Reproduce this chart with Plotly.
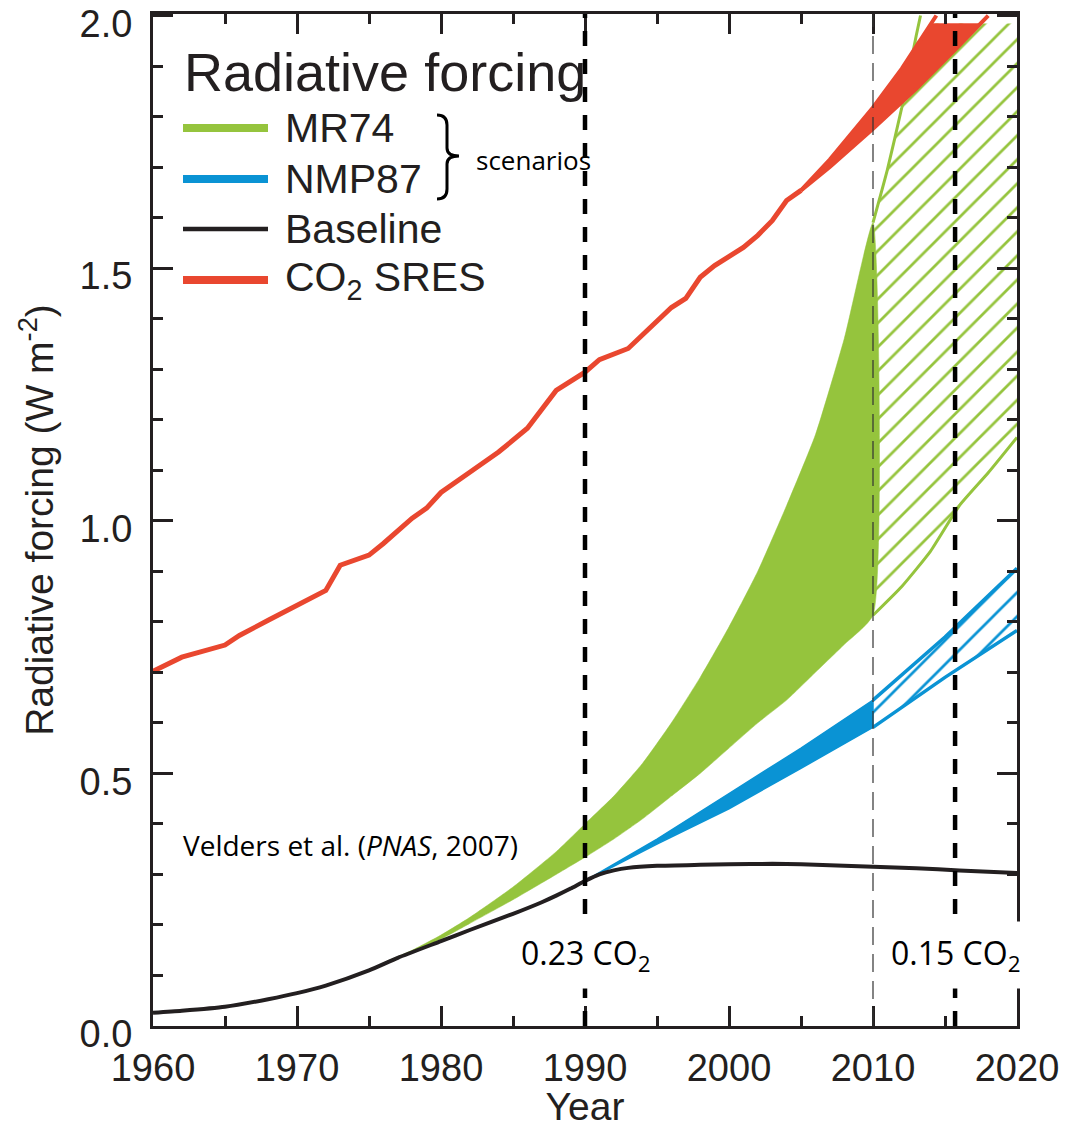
import numpy as np
import plotly.graph_objects as go

# ------------------------------------------------------------------ data
# CO2 SRES (single line up to 2005, then a widening band)
co2_years = [1960, 1962, 1965, 1966, 1968, 1970, 1972, 1973, 1975, 1976, 1978, 1979,
             1980, 1982, 1984, 1986, 1987, 1988, 1990, 1991, 1993, 1994.5, 1996, 1997,
             1998, 1999, 2001, 2002, 2003, 2004, 2005]
co2_vals = [0.702, 0.730, 0.754, 0.773, 0.803, 0.833, 0.862, 0.912, 0.932, 0.955, 1.005, 1.025,
            1.056, 1.096, 1.136, 1.183, 1.219, 1.258, 1.294, 1.319, 1.341, 1.381, 1.422, 1.440,
            1.482, 1.505, 1.541, 1.565, 1.594, 1.634, 1.654]
co2_hi_years = [2005, 2007, 2010, 2012, 2014.4]
co2_hi_vals = [1.654, 1.715, 1.818, 1.895, 2.0]
co2_lo_years = [2005, 2007, 2010, 2013, 2015.8, 2018]
co2_lo_vals = [1.654, 1.700, 1.776, 1.855, 1.935, 2.0]

# Baseline
base_years = [1960, 1962, 1965, 1968, 1970, 1972, 1975, 1977, 1980, 1982, 1985, 1987, 1988,
              1989, 1990, 1991, 1992, 1993, 1995, 1998, 2000, 2003, 2005, 2008, 2010, 2013,
              2016, 2020]
base_vals = [0.026, 0.030, 0.038, 0.053, 0.065, 0.080, 0.110, 0.135, 0.168, 0.190, 0.222,
             0.245, 0.258, 0.272, 0.287, 0.300, 0.308, 0.313, 0.317, 0.319, 0.320, 0.321,
             0.320, 0.317, 0.315, 0.312, 0.308, 0.303]

# MR74 scenario (solid range to 2010, hatched range after)
mr74_years = [1975, 1976, 1978, 1980, 1982, 1985, 1988, 1990, 1992, 1994, 1996, 1998, 2000,
              2002, 2004, 2006, 2008, 2010]
mr74_hi = [0.110, 0.125, 0.150, 0.180, 0.215, 0.275, 0.345, 0.400, 0.455, 0.520, 0.600,
           0.690, 0.790, 0.900, 1.030, 1.170, 1.360, 1.590]
mr74_lo = [0.110, 0.122, 0.145, 0.172, 0.203, 0.250, 0.300, 0.334, 0.370, 0.410, 0.455,
           0.500, 0.550, 0.600, 0.645, 0.700, 0.755, 0.813]
mr74_proj_hi_years = [2010, 2011, 2012, 2013, 2013.3]
mr74_proj_hi = [1.590, 1.695, 1.818, 1.960, 2.0]
mr74_proj_lo_years = [2010, 2012, 2014, 2016, 2018, 2020]
mr74_proj_lo = [0.813, 0.870, 0.940, 1.030, 1.095, 1.165]

# NMP87 scenario
nmp_years = [1990, 1995, 2000, 2005, 2010]
nmp_hi = [0.287, 0.370, 0.460, 0.550, 0.645]
nmp_lo = [0.287, 0.360, 0.430, 0.510, 0.591]
nmp_proj_years = [2010, 2015, 2020]
nmp_proj_hi = [0.645, 0.770, 0.906]
nmp_proj_lo = [0.591, 0.690, 0.783]

# marker years (vertical reference lines) and their labels
ref_years_thick = [1990, 2015.7]
ref_year_thin = 2010
ref_labels = ["0.23 CO<sub>2</sub>", "0.15 CO<sub>2</sub>"]

x_ticks = [1960, 1970, 1980, 1990, 2000, 2010, 2020]
y_ticks = [0.0, 0.5, 1.0, 1.5, 2.0]

legend_names = ["MR74", "NMP87", "Baseline", "CO<sub>2</sub> SRES"]

# ------------------------------------------------------------------ style
GREEN = "#95c43d"
BLUE = "#0a93d4"
RED = "#e9472f"
BLACK = "#231f20"
TOPCLIP = 1.984

W, H = 1066, 1128
L, R, T, B = 153, 1017, 14, 1026


def px(x):
    return (x - L) / (R - L)


def py(y):
    return (B - y) / (B - T)


fig = go.Figure()


def band(xs_hi, ys_hi, xs_lo, ys_lo):
    return list(xs_hi) + list(xs_lo)[::-1], list(ys_hi) + list(ys_lo)[::-1]


SM = dict(shape="spline", smoothing=0.5)
HATCH = dict(shape="/", bgcolor="rgba(0,0,0,0)", size=17, solidity=0.16, fgopacity=1)

# MR74 solid
bx, by = band(mr74_years, mr74_hi, mr74_years, mr74_lo)
fig.add_trace(go.Scatter(x=bx, y=by, fill="toself", fillcolor=GREEN, mode="lines",
                         line=dict(width=0.5, color=GREEN, **SM), hoverinfo="skip", showlegend=False))

# MR74 hatched projection (clipped at top)
hi_x = np.array(mr74_proj_hi_years)
hi_y = np.array(mr74_proj_hi)
keep = hi_y < TOPCLIP
hx = list(hi_x[keep]) + [float(np.interp(TOPCLIP, hi_y, hi_x))]
hy = list(hi_y[keep]) + [TOPCLIP]
hatch_x = hx + [mr74_proj_lo_years[-1]] + mr74_proj_lo_years[::-1]
hatch_y = hy + [TOPCLIP] + mr74_proj_lo[::-1]
fig.add_trace(go.Scatter(x=hatch_x, y=hatch_y, fill="toself", fillcolor=GREEN,
                         fillpattern=dict(fgcolor=GREEN, **HATCH),
                         mode="lines", line=dict(width=0), hoverinfo="skip", showlegend=False))
fig.add_trace(go.Scatter(x=mr74_proj_hi_years, y=mr74_proj_hi, mode="lines",
                         line=dict(color=GREEN, width=3, **SM), hoverinfo="skip", showlegend=False))
fig.add_trace(go.Scatter(x=mr74_proj_lo_years, y=mr74_proj_lo, mode="lines",
                         line=dict(color=GREEN, width=3, **SM), hoverinfo="skip", showlegend=False))

# NMP87 solid
bx, by = band(nmp_years, nmp_hi, nmp_years, nmp_lo)
fig.add_trace(go.Scatter(x=bx, y=by, fill="toself", fillcolor=BLUE, mode="lines",
                         line=dict(width=1.5, color=BLUE), hoverinfo="skip", showlegend=False))
# NMP87 hatched
bx, by = band(nmp_proj_years, nmp_proj_hi, nmp_proj_years, nmp_proj_lo)
fig.add_trace(go.Scatter(x=bx, y=by, fill="toself", fillcolor=BLUE,
                         fillpattern=dict(fgcolor=BLUE, **HATCH),
                         mode="lines", line=dict(width=0), hoverinfo="skip", showlegend=False))
fig.add_trace(go.Scatter(x=nmp_proj_years, y=nmp_proj_hi, mode="lines",
                         line=dict(color=BLUE, width=3.5), hoverinfo="skip", showlegend=False))
fig.add_trace(go.Scatter(x=nmp_proj_years, y=nmp_proj_lo, mode="lines",
                         line=dict(color=BLUE, width=3.5), hoverinfo="skip", showlegend=False))

# CO2 SRES band (clipped fill) and edges
u_x = np.array(co2_hi_years)
u_y = np.array(co2_hi_vals)
l_x = np.array(co2_lo_years)
l_y = np.array(co2_lo_vals)
ku = u_y < TOPCLIP
kl = l_y < TOPCLIP
fx = list(u_x[ku]) + [float(np.interp(TOPCLIP, u_y, u_x)), float(np.interp(TOPCLIP, l_y, l_x))] + list(l_x[kl])[::-1]
fy = list(u_y[ku]) + [TOPCLIP, TOPCLIP] + list(l_y[kl])[::-1]
fig.add_trace(go.Scatter(x=fx, y=fy, fill="toself", fillcolor=RED, mode="lines",
                         line=dict(width=0.5, color=RED), hoverinfo="skip", showlegend=False))
fig.add_trace(go.Scatter(x=co2_hi_years, y=co2_hi_vals, mode="lines",
                         line=dict(color=RED, width=4), hoverinfo="skip", showlegend=False))
fig.add_trace(go.Scatter(x=co2_lo_years, y=co2_lo_vals, mode="lines",
                         line=dict(color=RED, width=4), hoverinfo="skip", showlegend=False))
fig.add_trace(go.Scatter(x=co2_years, y=co2_vals, mode="lines",
                         line=dict(color=RED, width=5), hoverinfo="skip", showlegend=False))

# Baseline
fig.add_trace(go.Scatter(x=base_years, y=base_vals, mode="lines",
                         line=dict(color=BLACK, width=4, shape="spline", smoothing=0.6),
                         hoverinfo="skip", showlegend=False))

shapes = []
# vertical reference lines
for yr in ref_years_thick:
    shapes.append(dict(type="line", xref="x", yref="paper", x0=yr, x1=yr, y0=0, y1=1,
                       line=dict(color="black", width=4.5, dash="15px,13px"), layer="above"))
shapes.append(dict(type="line", xref="x", yref="paper", x0=ref_year_thin, x1=ref_year_thin,
                   y0=0, y1=1, line=dict(color="#333333", width=1.2, dash="18px,9px"), layer="above"))

# custom legend
leg_colors = [GREEN, BLUE, BLACK, RED]
leg_widths = [8, 8, 4.5, 8]
leg_y = [128, 179, 229, 280]
for c, w, yy in zip(leg_colors, leg_widths, leg_y):
    shapes.append(dict(type="line", xref="paper", yref="paper", x0=px(183), x1=px(268),
                       y0=py(yy), y1=py(yy), line=dict(color=c, width=w)))

# bracket "}"
pts = [("M", 437, 115), ("Q", 447, 115, 447, 125), ("L", 447, 148), ("Q", 447, 156, 459, 156),
       ("Q", 447, 156, 447, 164), ("L", 447, 189), ("Q", 447, 199, 437, 199)]
path = ""
for p in pts:
    cmd = p[0]
    coords = p[1:]
    pairs = []
    for i in range(0, len(coords), 2):
        pairs.append(f"{px(coords[i]):.5f},{py(coords[i+1]):.5f}")
    path += cmd + " " + " ".join(pairs) + " "
shapes.append(dict(type="path", xref="paper", yref="paper", path=path.strip(),
                   line=dict(color="black", width=3)))

annotations = []
annotations.append(dict(text="Radiative forcing", xref="paper", yref="paper", x=px(182), y=py(72),
                        xanchor="left", yanchor="middle", showarrow=False,
                        font=dict(family="Liberation Sans, Arial", size=54, color=BLACK)))
for name, yy in zip(legend_names, leg_y):
    annotations.append(dict(text=name, xref="paper", yref="paper", x=px(283), y=py(yy),
                            xanchor="left", yanchor="middle", showarrow=False,
                            font=dict(family="Liberation Sans, Arial", size=41, color=BLACK)))
annotations.append(dict(text="scenarios", xref="paper", yref="paper", x=px(474), y=py(160),
                        xanchor="left", yanchor="middle", showarrow=False,
                        font=dict(family="Open Sans", size=26, color="black")))
annotations.append(dict(text="Velders et al. (<i>PNAS</i>, 2007)", xref="paper", yref="paper",
                        x=px(181), y=py(845), xanchor="left", yanchor="middle", showarrow=False,
                        font=dict(family="Open Sans", size=28, color="black")))
for yr, lab in zip(ref_years_thick, ref_labels):
    annotations.append(dict(text=lab, xref="x", yref="paper", x=yr, y=py(955),
                            xanchor="center", yanchor="middle", showarrow=False,
                            bgcolor="white", borderpad=9,
                            font=dict(family="Open Sans", size=32, color="black")))

fig.update_layout(
    width=W, height=H,
    margin=dict(l=L, r=W - R, t=T, b=H - B, autoexpand=False),
    paper_bgcolor="white", plot_bgcolor="white",
    shapes=shapes, annotations=annotations,
    showlegend=False,
    font=dict(family="Liberation Sans, Arial", color=BLACK),
)
fig.update_xaxes(
    range=[1960, 2020], tickmode="array", tickvals=x_ticks,
    ticks="inside", ticklen=20, tickwidth=3, tickcolor=BLACK,
    minor=dict(ticks="inside", dtick=5, tick0=1960, ticklen=10, tickwidth=3, tickcolor=BLACK),
    showline=True, linewidth=3, linecolor=BLACK, mirror="allticks",
    showgrid=False, zeroline=False, ticklabeloverflow="allow",
    tickfont=dict(size=38, color=BLACK), ticklabelstandoff=6,
    title=dict(text="Year", font=dict(size=39, color=BLACK), standoff=12),
)
fig.update_yaxes(
    range=[0, 2.003], tickmode="array", tickvals=y_ticks, tickformat=".1f",
    ticks="inside", ticklen=20, tickwidth=3, tickcolor=BLACK,
    minor=dict(ticks="inside", dtick=0.1, tick0=0, ticklen=10, tickwidth=3, tickcolor=BLACK),
    showline=True, linewidth=3, linecolor=BLACK, mirror="allticks",
    showgrid=False, zeroline=False, ticklabeloverflow="allow", ticklabelshift=8,
    tickfont=dict(size=38, color=BLACK), ticklabelstandoff=10,
    title=dict(text="Radiative forcing (W m<sup>-2</sup>)", font=dict(size=39, color=BLACK), standoff=14),
)

fig.write_html("out.html")
